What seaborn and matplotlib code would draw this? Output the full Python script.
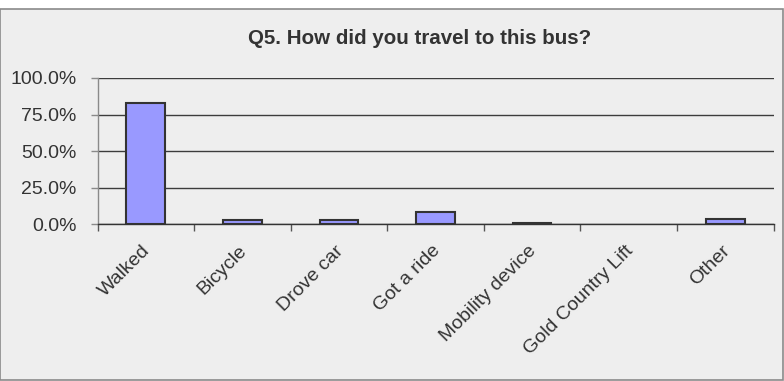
import matplotlib
matplotlib.use("Agg")
import matplotlib.pyplot as plt
import matplotlib.transforms as mtransforms
from matplotlib.patches import Rectangle
from matplotlib.ticker import PercentFormatter, FixedLocator
import seaborn as sns
import pandas as pd

# Survey responses: how riders reached the bus (percent of respondents)
modes = ["Walked", "Bicycle", "Drove car", "Got a ride",
         "Mobility device", "Gold Country Lift", "Other"]
shares = [83.2, 2.7, 2.7, 8.5, 0.9, 0.0, 3.3]
yticks = [0, 25, 50, 75, 100]
title = "Q5. How did you travel to this bus?"

df = pd.DataFrame({"mode": modes, "share": shares})

sns.set_theme(style="white")
plt.rcParams["font.family"] = ["Liberation Sans", "DejaVu Sans"]

bg = "#eeeeee"
text_c = "#333333"

fig = plt.figure(figsize=(7.84, 3.81), dpi=100, facecolor="white")
# chart area panel with border, kept behind the axes
fig.patches.append(Rectangle((0.0, 0.0015), 0.9985, (381 - 9) / 381 - 0.0015,
                             transform=fig.transFigure, facecolor=bg,
                             edgecolor="#8a8a8a", linewidth=1.2, zorder=-5))

ax = fig.add_axes([97.5 / 784, 1 - 224.3 / 381,
                   (773.5 - 97.5) / 784, (224.3 - 78) / 381])
ax.set_facecolor(bg)

sns.barplot(data=df, x="mode", y="share", ax=ax, width=0.4,
            color="#9999ff", saturation=1, edgecolor="#333333",
            linewidth=1.5, zorder=3)

# empty categories get no visible outline
for bar, v in zip(ax.patches, shares):
    if v == 0:
        bar.set_linewidth(0)

ax.set_ylim(0, 100)
ax.set_xlim(-0.5, len(modes) - 0.5)
ax.yaxis.set_major_locator(FixedLocator(yticks))
ax.yaxis.set_major_formatter(PercentFormatter(decimals=1))
ax.yaxis.grid(True, color="#3c3c3c", linewidth=1.0, zorder=1)
ax.set_axisbelow(True)

for s in ["top", "right"]:
    ax.spines[s].set_visible(False)
ax.spines["left"].set_color("#8a8a8a")
ax.spines["left"].set_linewidth(1.0)
ax.spines["bottom"].set_color("#333333")
ax.spines["bottom"].set_linewidth(1.0)

ax.tick_params(axis="y", which="major", direction="out", length=5,
               width=1, color="#8a8a8a", labelsize=14, labelcolor=text_c,
               left=True, pad=10)

# x ticks sit at the category boundaries
ax.xaxis.set_minor_locator(FixedLocator([i - 0.5 for i in range(len(modes) + 1)]))
ax.tick_params(axis="x", which="minor", direction="out", length=5,
               width=1, color="#555555", bottom=True)
ax.tick_params(axis="x", which="major", length=0, pad=13,
               labelsize=14, labelcolor=text_c)
ax.set_xticks(range(len(modes)))
ax.set_xticklabels(modes, rotation=45, ha="right", rotation_mode="anchor")

# nudge the slanted labels a little to the left
shift = mtransforms.ScaledTranslation(-4 / 100, 0, fig.dpi_scale_trans)
for lbl in ax.get_xticklabels():
    lbl.set_transform(lbl.get_transform() + shift)

ax.set_xlabel("")
ax.set_ylabel("")

fig.text(420 / 784, 1 - 38 / 381, title, ha="center", va="center",
         fontsize=14.8, fontweight="bold", color=text_c)

fig.savefig("out.png", dpi=100, facecolor="white")
